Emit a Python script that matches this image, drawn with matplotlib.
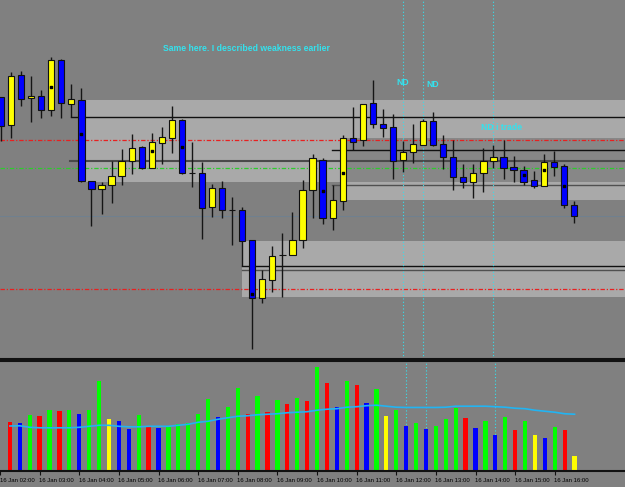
import matplotlib.pyplot as plt
import numpy as np

# 15 minute bars, 16 Jan 02:15 .. 16:30, prices in points
opens = [303.3, 275, 324.7, 301.7, 304, 290, 339.7, 295.7, 300.3, 219,
         211.7, 215, 224, 239.3, 253, 232.7, 257.3, 262.3, 280, 227.7,
         227.3, 193, 212.3, 190, 190, 160, 102.7, 120.7, 145, 145,
         160.7, 210.7, 240, 182.3, 199.7, 261.7, 259.7, 296.7, 275.7, 272.7,
         240.7, 248.3, 255.7, 278.7, 256, 243.7, 223.7, 218.3, 227.3, 239.7,
         243.7, 233, 230.3, 220.3, 214.3, 238, 234.3, 195]
highs = [303.5, 327.7, 329, 324, 310, 342.7, 341, 315.7, 312.3, 219,
         218.3, 239, 251.7, 266, 254, 266.7, 273.3, 294.3, 281, 258.3,
         238.3, 216, 219.3, 203.3, 193.3, 160.7, 130, 154, 167.7, 188,
         220.7, 246.7, 242.7, 215, 265, 293.3, 296, 320, 291, 285.7,
         259, 276, 281, 288.3, 265, 260, 236.7, 236, 252.7, 255.7,
         259.7, 244, 234.3, 229.3, 246.3, 249, 236.7, 199.3]
lows = [259, 262.3, 294, 278.3, 281.7, 284.3, 281.7, 283.3, 218.5, 174.3,
        186.7, 197.3, 215.7, 226, 231, 232.5, 236, 247.7, 226.3, 213.3,
        161.7, 183.3, 182.3, 155.7, 134, 51, 97.7, 108.3, 103.3, 145,
        152.7, 182.3, 176.7, 170, 190.7, 250.7, 254.3, 271.7, 263.3, 221,
        228.3, 237.7, 255.5, 254, 231, 210.7, 212.3, 202.3, 208.3, 232.3,
        221.7, 218.3, 215.7, 212.3, 214, 224.3, 192.3, 177.3]
closes = [274.3, 324.3, 301, 304.3, 290.3, 340, 296.7, 300.7, 219, 211.7,
          215.7, 224, 239.7, 252.7, 232.7, 258.3, 263.3, 280, 227, 227.7,
          192.3, 212.3, 190, 190, 159.3, 102.7, 121.7, 144.7, 145, 160.7,
          210.7, 242.7, 182.3, 200, 261.7, 258.3, 295.7, 275.7, 271.7, 239.3,
          248.3, 256, 278.7, 255.7, 243.3, 223.3, 218.3, 227.7, 239.7, 243.7,
          232, 230.3, 218.3, 214.3, 238, 233.3, 195, 184.3]

# small black markers drawn inside some candles
marker_bars = [5, 8, 15, 18, 25, 32, 34, 52, 54, 56]
marker_prices = [313.3, 265.7, 249.3, 253.3, 106, 209.2, 227.3, 225.3, 230.3, 214.7]

volumes = [956, 936, 1090, 1076, 1204, 1176, 1190, 1116, 1190, 1776,
           1010, 970, 824, 1090, 856, 836, 884, 910, 930, 1116,
           1410, 1050, 1256, 1630, 1116, 1476, 1156, 1390, 1310, 1436,
           1376, 2050, 1724, 1256, 1776, 1696, 1336, 1610, 1070, 1190,
           876, 936, 816, 876, 1010, 1236, 1044, 830, 970, 704,
           1050, 796, 970, 696, 636, 850, 804, 276]
vol_kind = ['r', 'b', 'g', 'r', 'g', 'r', 'g', 'b', 'g', 'g',
            'y', 'b', 'b', 'g', 'r', 'b', 'g', 'g', 'g', 'g',
            'g', 'b', 'g', 'g', 'r', 'g', 'r', 'g', 'r', 'g',
            'r', 'g', 'r', 'b', 'g', 'r', 'b', 'g', 'y', 'g',
            'b', 'g', 'b', 'g', 'g', 'g', 'r', 'b', 'g', 'b',
            'g', 'r', 'g', 'y', 'b', 'g', 'r', 'y']
vol_ma = [876, 880, 850, 840, 840, 840, 840, 850, 870, 890,
          890, 870, 860, 860, 870, 870, 870, 890, 910, 950,
          970, 1010, 1040, 1070, 1080, 1100, 1110, 1120, 1140, 1150,
          1160, 1190, 1210, 1220, 1250, 1260, 1280, 1290, 1270, 1250,
          1245, 1245, 1245, 1245, 1250, 1270, 1270, 1270, 1270, 1260,
          1250, 1230, 1220, 1190, 1170, 1150, 1120, 1110]

time_labels = ['16 Jan 02:00', '16 Jan 03:00', '16 Jan 04:00', '16 Jan 05:00',
               '16 Jan 06:00', '16 Jan 07:00', '16 Jan 08:00', '16 Jan 09:00',
               '16 Jan 10:00', '16 Jan 11:00', '16 Jan 12:00', '16 Jan 13:00',
               '16 Jan 14:00', '16 Jan 15:00', '16 Jan 16:00']
label_bars = [4 * k - 1 for k in range(len(time_labels))]

# supply / demand zones: (first bar, low price, high price)
zones = [(8.15, 218, 300), (34.4, 200, 262), (24.0, 103, 159)]
overlap = (34.4, 218, 262)
# drawn lines: (first bar, price, colour, width)
hlines = [(6.95, 283, '#101010', 1.0), (6.9, 239, '#4a4a4a', 1.5),
          (32.9, 250.7, '#101010', 1.0), (32.9, 215, '#505050', 1.0),
          (24.0, 134, '#101010', 1.0), (24.0, 130.5, '#505050', 1.0)]
red_levels = [259.7, 111.7]
green_level = 232.7
slate_level = 184.3
vlines_bars = [40, 42, 49]

notes = [(16.15, 351.7, 'Same here. I described weakness earlier'),
         (39.3, 318, 'ND'), (42.36, 315.3, 'ND'), (47.76, 272.3, 'ND i trade')]

BG = '#808080'
ZONE = '#a9a9a9'
CYAN = '#33e2ee'
vol_cmap = {'r': '#ff0000', 'g': '#00ff00', 'b': '#0000ff', 'y': '#ffff00'}

W, H = 625, 487
fig = plt.figure(figsize=(W / 100, H / 100), dpi=100, facecolor=BG)
ax = fig.add_axes([0, 1 - 358.5 / H, 1, 358.5 / H], facecolor=BG)
axv = fig.add_axes([0, 1 - 470.5 / H, 1, 109.5 / H], facecolor=BG)

x0, x1 = -1 / 10.05, 624 / 10.05
x = np.arange(len(opens))

for start, lo, hi in zones:
    ax.fill_between([start, x1], lo, hi, color=ZONE, lw=0, zorder=0)
ax.fill_between([overlap[0], x1], overlap[1], overlap[2], color='#878787', lw=0, zorder=0)

for start, p, c, w in hlines:
    ax.plot([start, x1], [p, p], color=c, lw=w, zorder=1)
for p in red_levels:
    ax.axhline(p, color='#e82020', lw=0.9, ls=(0, (3.5, 1.5, 1, 1.5)), zorder=1)
ax.axhline(green_level, color='#2ccc2c', lw=0.9, ls=(0, (3.5, 1.5, 1, 1.5)), zorder=1)
ax.axhline(slate_level, color='#70808f', lw=0.8, zorder=1)

for b in vlines_bars:
    ax.axvline(b, color=CYAN, lw=0.8, ls=(0, (1, 2)), zorder=1)
    axv.axvline(b, color=CYAN, lw=0.8, ls=(0, (1, 2)), zorder=1)

o = np.array(opens)
c = np.array(closes)
ax.vlines(x, lows, highs, color='#151515', lw=1.0, zorder=2)
body_col = np.where(c > o, '#ffff00', '#0000ff')
ax.bar(x, c - o, bottom=o, width=0.62, color=body_col, edgecolor='#111111',
       linewidth=0.8, zorder=3)
ax.scatter(marker_bars, marker_prices, s=2, marker='s', color='black', zorder=4)

for bx, by, t in notes:
    ax.text(bx, by, t, color=CYAN, fontsize=6.2, fontweight='bold',
            family=['Liberation Sans', 'DejaVu Sans'], va='center', ha='left', zorder=5)

ax.set_xlim(x0, x1)
ax.set_ylim(42, 400)
ax.set_xticks([])
ax.set_yticks([])
for s in ['top', 'left', 'right']:
    ax.spines[s].set_visible(False)
ax.spines['bottom'].set_linewidth(1.5)
ax.spines['bottom'].set_color('#111111')

# volume panel
axv.bar(x, volumes, width=0.43, color=[vol_cmap[k] for k in vol_kind], lw=0, zorder=2)
axv.plot(x, vol_ma, color='#22b4f2', lw=1.2, zorder=3)
axv.set_xlim(x0, x1)
axv.set_ylim(-10, 2170)
axv.set_yticks([])
axv.set_xticks(label_bars)
axv.set_xticklabels([])
axv.tick_params(axis='x', length=3, width=0.8, color='#111111')
for b, t in zip(label_bars, time_labels):
    axv.text(b - 0.05, -0.095, t, transform=axv.get_xaxis_transform(),
             fontsize=4.3, family=['Liberation Sans', 'DejaVu Sans'],
             color='black', ha='left', va='center', clip_on=False)
for s in ['left', 'right']:
    axv.spines[s].set_visible(False)
for s in ['top', 'bottom']:
    axv.spines[s].set_linewidth(1.5)
    axv.spines[s].set_color('#111111')

fig.savefig('out.png', dpi=100, facecolor=BG)
